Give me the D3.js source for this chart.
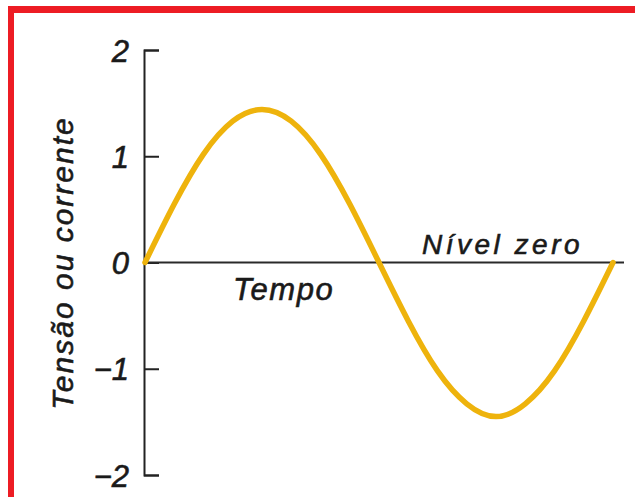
<!DOCTYPE html>
<html>
<head>
<meta charset="utf-8">
<script src="https://cdn.jsdelivr.net/npm/d3@7"></script>
<style>
  html, body { margin: 0; padding: 0; background: #fff; }
  svg { display: block; }
  text { font-family: "Liberation Sans", Arial, sans-serif; font-style: italic; fill: #1a1a1a; stroke: #1a1a1a; stroke-width: 0.6px; }
</style>
</head>
<body>
<svg id="chart" width="635" height="497"></svg>
<script>
// Time samples over one full cycle (degrees) and the instantaneous value at each
const tempo = [0, 22.5, 45, 67.5, 90, 112.5, 135, 157.5, 180, 202.5, 225, 247.5, 270, 292.5, 315, 337.5, 360];
const valores = [0, 0.55, 1.02, 1.33, 1.44, 1.33, 1.02, 0.55, 0, -0.55, -1.02, -1.33, -1.45, -1.33, -1.02, -0.55, 0];
const yTicks = [-2, -1, 0, 1, 2];
const yTickLabels = ["\u22122", "\u22121", "0", "1", "2"];
const yTitle = "Tensão ou corrente";
const xLabel = "Tempo";
const zeroLabel = "Nível zero";

const svg = d3.select("#chart");

// Frame
svg.append("rect").attr("x", 8).attr("y", 6).attr("width", 627).attr("height", 7).attr("fill", "#ed1c24");
svg.append("rect").attr("x", 8).attr("y", 6).attr("width", 6).attr("height", 491).attr("fill", "#ed1c24");

const x = d3.scaleLinear().domain([0, 360]).range([145, 613]);
const y = d3.scaleLinear().domain([-2, 2]).range([475, 50]);

// Vertical axis with ticks pointing into the plot
const yAxis = d3.axisLeft(y)
  .tickValues(yTicks)
  .tickFormat((d, i) => yTickLabels[i])
  .tickSize(-15)
  .tickPadding(15);

const gy = svg.append("g").attr("transform", "translate(144,0)").call(yAxis);
gy.select(".domain").attr("stroke", "#222").attr("stroke-width", 2);
gy.selectAll(".tick line").attr("stroke", "#222").attr("stroke-width", 2);
gy.selectAll(".tick text")
  .attr("font-size", 31)
  .attr("font-family", "'Liberation Sans', Arial, sans-serif")
  .attr("font-style", "italic")
  .attr("fill", "#1a1a1a")
  .attr("dy", "0.36em");

// Zero level line
svg.append("line")
  .attr("x1", 144).attr("x2", 624)
  .attr("y1", y(0)).attr("y2", y(0))
  .attr("stroke", "#2a2a2a").attr("stroke-width", 2);

// Waveform
const line = d3.line()
  .x((d, i) => x(tempo[i]))
  .y(d => y(d))
  .curve(d3.curveNatural);

svg.append("path")
  .datum(valores)
  .attr("d", line)
  .attr("fill", "none")
  .attr("stroke", "#eeb30c")
  .attr("stroke-width", 5.5)
  .attr("stroke-linecap", "round");

// Labels
svg.append("text")
  .attr("x", 233).attr("y", 300)
  .attr("font-size", 31)
  .attr("letter-spacing", 1.5)
  .text(xLabel);

svg.append("text")
  .attr("x", 422).attr("y", 254)
  .attr("font-size", 28)
  .attr("letter-spacing", 3.5)
  .text(zeroLabel);

svg.append("text")
  .attr("transform", "translate(73,263) rotate(-90)")
  .attr("text-anchor", "middle")
  .attr("font-size", 30)
  .attr("letter-spacing", 2)
  .text(yTitle);
</script>
</body>
</html>
